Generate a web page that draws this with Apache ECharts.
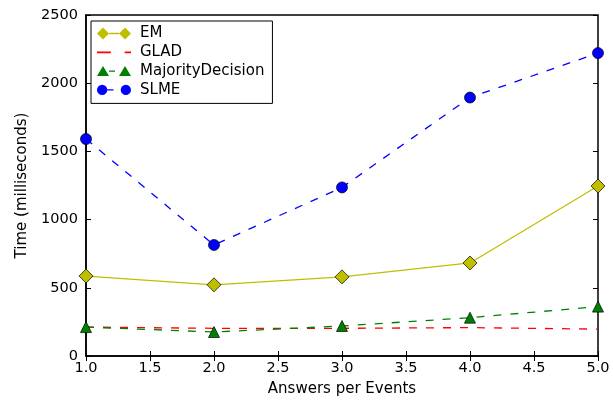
<!DOCTYPE html>
<html><head><meta charset="utf-8">
<script src="https://cdn.jsdelivr.net/npm/echarts@6/dist/echarts.min.js"></script>
<style>html,body{margin:0;padding:0;background:#fff}#c{width:613px;height:403px}</style>
</head><body><div id="c"></div>
<script>
const xValues = [1, 2, 3, 4, 5];
const emValues = [586, 522, 580, 682, 1246];
const gladValues = [212, 203, 203, 208, 197];
const majorityValues = [212, 176, 220, 281, 362];
const slmeValues = [1591, 814, 1236, 1895, 2221];
const yTicks = [0, 500, 1000, 1500, 2000, 2500];

const font = 'DejaVu Sans';
const pairs = v => xValues.map((x, i) => [x, v[i]]);

const iconEM = 'path://M0 6L6 0L12 6L6 12ZM12 5.3L22 5.3L22 6.7L12 6.7ZM22 6L28 0L34 6L28 12Z';
const iconGLAD = 'path://M2 5.3L13 5.3L13 6.7L2 6.7ZM24 5.3L29 5.3L29 6.7L24 6.7Z';
const iconMaj = 'path://M0 11L6 1L12 11ZM12 5.3L18 5.3L18 6.7L12 6.7ZM22 11L28 1L34 11Z';
const iconSLME = 'path://M0 6A5 5 0 1 0 10 6A5 5 0 1 0 0 6ZM10 5.3L16 5.3L16 6.7L10 6.7ZM23 6A5 5 0 1 0 33 6A5 5 0 1 0 23 6Z';

const chart = echarts.init(document.getElementById('c'), null, {renderer: 'canvas'});
const tickStyle = {show: true, inside: true, length: 5, lineStyle: {color: '#000', width: 1}};
chart.setOption({
  animation: false,
  backgroundColor: '#fff',
  grid: {left: 86, right: 15, top: 15, bottom: 47, show: true, borderColor: '#000', borderWidth: 1.5},
  legend: {
    left: 91, top: 21, orient: 'vertical',
    backgroundColor: '#fff', borderColor: '#000', borderWidth: 1, borderRadius: 0,
    padding: [5, 8, 6, 6], itemGap: 3.8, itemWidth: 34, itemHeight: 12,
    textStyle: {fontFamily: font, fontSize: 15, lineHeight: 15, color: '#000', padding: [0, 0, 0, 4]},
    itemStyle: {borderWidth: 0},
    data: [
      {name: 'EM', icon: iconEM},
      {name: 'GLAD', icon: iconGLAD},
      {name: 'MajorityDecision', icon: iconMaj},
      {name: 'SLME', icon: iconSLME}
    ]
  },
  xAxis: [{
    type: 'value', min: 1, max: 5, interval: 0.5,
    name: 'Answers per Events', nameLocation: 'middle', nameGap: 26,
    nameTextStyle: {fontFamily: font, fontSize: 15, color: '#000'},
    axisLine: {show: true, lineStyle: {color: '#000', width: 1.5}},
    axisTick: tickStyle,
    axisLabel: {fontFamily: font, fontSize: 14.5, color: '#000', margin: 5, formatter: v => v.toFixed(1)},
    splitLine: {show: false}
  }, {
    type: 'value', min: 1, max: 5, interval: 0.5, position: 'top',
    axisLine: {show: false}, axisTick: tickStyle, axisLabel: {show: false}, splitLine: {show: false}
  }],
  yAxis: [{
    type: 'value', min: yTicks[0], max: yTicks[yTicks.length - 1], interval: 500,
    name: 'Time (milliseconds)', nameLocation: 'middle', nameGap: 56,
    nameTextStyle: {fontFamily: font, fontSize: 15, color: '#000'},
    axisLine: {show: true, lineStyle: {color: '#000', width: 1.5}},
    axisTick: tickStyle,
    axisLabel: {fontFamily: font, fontSize: 14.5, color: '#000', margin: 8, formatter: v => String(v)},
    splitLine: {show: false}
  }, {
    type: 'value', min: yTicks[0], max: yTicks[yTicks.length - 1], interval: 500, position: 'right',
    axisLine: {show: false}, axisTick: tickStyle, axisLabel: {show: false}, splitLine: {show: false}
  }],
  series: [
    {name: 'EM', type: 'line', data: pairs(emValues), color: '#bfbf00',
     symbol: 'diamond', symbolSize: 14, showAllSymbol: true,
     lineStyle: {color: '#bfbf00', width: 1.3},
     itemStyle: {color: '#bfbf00', borderColor: '#000', borderWidth: 0.7}, z: 3},
    {name: 'GLAD', type: 'line', data: pairs(gladValues), color: '#ff0000',
     symbol: 'none',
     lineStyle: {color: '#ff0000', width: 1.3, type: [8, 9]}, z: 2},
    {name: 'MajorityDecision', type: 'line', data: pairs(majorityValues), color: '#008000',
     symbol: 'triangle', symbolSize: 11,
     lineStyle: {color: '#008000', width: 1.3, type: [8, 9]},
     itemStyle: {color: '#008000', borderColor: '#000', borderWidth: 0.7}, z: 2},
    {name: 'SLME', type: 'line', data: pairs(slmeValues), color: '#0000ff',
     symbol: 'circle', symbolSize: 11,
     lineStyle: {color: '#0000ff', width: 1.3, type: [8, 9]},
     itemStyle: {color: '#0000ff', borderColor: '#000', borderWidth: 0.7}, z: 3}
  ]
});
</script></body></html>
